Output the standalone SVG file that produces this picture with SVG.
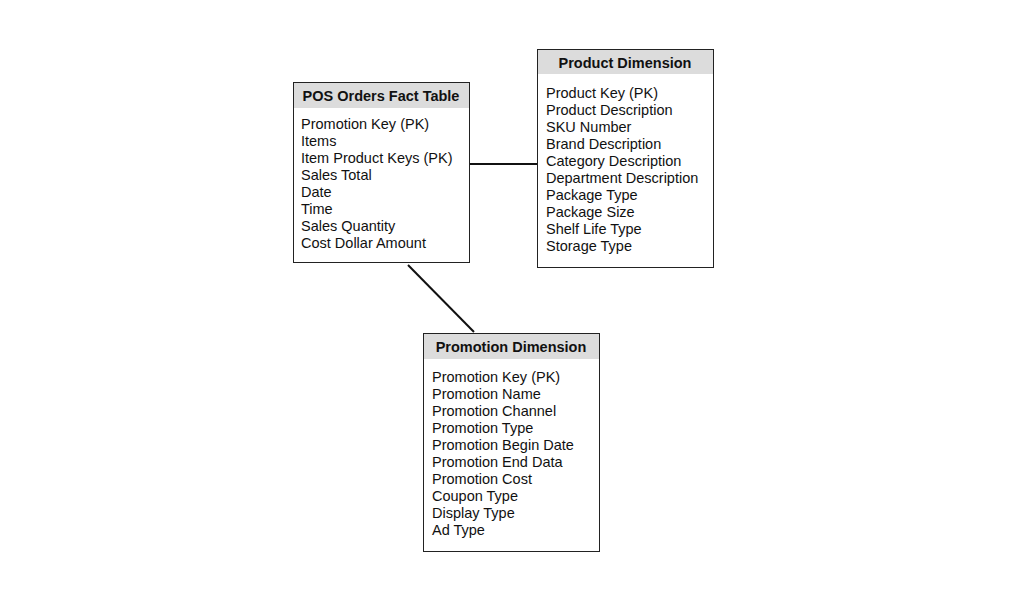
<svg xmlns="http://www.w3.org/2000/svg" width="1024" height="611" viewBox="0 0 1024 611">
<style>
.box{fill:#fff;stroke:#222;stroke-width:1}
.hd{fill:#dcdcdc}
.t{font-family:"Liberation Sans",Arial,sans-serif;font-size:14.5px;fill:#111}
.h{font-weight:bold;text-anchor:middle;font-size:14.5px}
.c{stroke:#111;stroke-width:2;fill:none}
</style>
<rect width="1024" height="611" fill="#fff"/>
<g id="connectors">
<line class="c" x1="470" y1="164" x2="537" y2="164"/>
<line class="c" x1="408" y1="265" x2="474" y2="332"/>
</g>
<g id="fact">
<rect class="box" x="293.5" y="82.5" width="176" height="180"/>
<rect class="hd" x="294" y="83" width="175" height="25"/>
<text class="t h" x="381" y="101">POS Orders Fact Table</text>
<text class="t" x="301"><tspan x="301" y="129">Promotion Key (PK)</tspan><tspan x="301" dy="17">Items</tspan><tspan x="301" dy="17">Item Product Keys (PK)</tspan><tspan x="301" dy="17">Sales Total</tspan><tspan x="301" dy="17">Date</tspan><tspan x="301" dy="17">Time</tspan><tspan x="301" dy="17">Sales Quantity</tspan><tspan x="301" dy="17">Cost Dollar Amount</tspan></text>
</g>
<g id="product">
<rect class="box" x="537.5" y="49.5" width="176" height="218"/>
<rect class="hd" x="538" y="50" width="175" height="24"/>
<text class="t h" x="625" y="68">Product Dimension</text>
<text class="t"><tspan x="546" y="98">Product Key (PK)</tspan><tspan x="546" dy="17">Product Description</tspan><tspan x="546" dy="17">SKU Number</tspan><tspan x="546" dy="17">Brand Description</tspan><tspan x="546" dy="17">Category Description</tspan><tspan x="546" dy="17">Department Description</tspan><tspan x="546" dy="17">Package Type</tspan><tspan x="546" dy="17">Package Size</tspan><tspan x="546" dy="17">Shelf Life Type</tspan><tspan x="546" dy="17">Storage Type</tspan></text>
</g>
<g id="promotion">
<rect class="box" x="423.5" y="333.5" width="176" height="218"/>
<rect class="hd" x="424" y="334" width="175" height="25"/>
<text class="t h" x="511" y="352">Promotion Dimension</text>
<text class="t"><tspan x="432" y="382">Promotion Key (PK)</tspan><tspan x="432" dy="17">Promotion Name</tspan><tspan x="432" dy="17">Promotion Channel</tspan><tspan x="432" dy="17">Promotion Type</tspan><tspan x="432" dy="17">Promotion Begin Date</tspan><tspan x="432" dy="17">Promotion End Data</tspan><tspan x="432" dy="17">Promotion Cost</tspan><tspan x="432" dy="17">Coupon Type</tspan><tspan x="432" dy="17">Display Type</tspan><tspan x="432" dy="17">Ad Type</tspan></text>
</g>
</svg>
